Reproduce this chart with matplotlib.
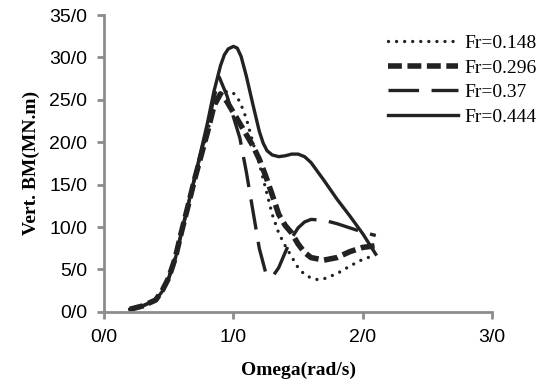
import numpy as np
import matplotlib
matplotlib.use('Agg')
import matplotlib.pyplot as plt

plt.rcParams['lines.scale_dashes'] = False

# omega (rad/s) and vertical bending moment (MN.m)
x_148 = [0.2, 0.3, 0.4, 0.45, 0.5, 0.55, 0.6, 0.65, 0.7, 0.75, 0.8, 0.85, 0.9, 0.95, 1.0,
         1.05, 1.1, 1.15, 1.2, 1.25, 1.3, 1.35, 1.4, 1.45, 1.5, 1.55, 1.6, 1.65, 1.7, 1.8,
         1.9, 2.0, 2.1]
y_148 = [0.3, 0.7, 1.5, 2.6, 4.1, 6.4, 9.5, 12.5, 15.6, 18.4, 21.2, 24.2, 25.6, 26.0, 25.8,
         24.8, 22.8, 20.0, 17.5, 14.5, 11.5, 9.3, 7.8, 6.5, 5.2, 4.4, 4.0, 3.8, 3.9, 4.5,
         5.4, 6.2, 6.7]

x_296 = [0.2, 0.3, 0.4, 0.45, 0.5, 0.55, 0.6, 0.65, 0.7, 0.75, 0.8, 0.85, 0.9, 0.95, 1.0,
         1.05, 1.1, 1.15, 1.2, 1.25, 1.3, 1.35, 1.4, 1.45, 1.5, 1.55, 1.6, 1.7, 1.8, 1.9,
         2.0, 2.1]
y_296 = [0.3, 0.7, 1.4, 2.5, 4.0, 6.3, 9.5, 12.5, 15.6, 18.4, 21.2, 24.3, 25.7, 24.8, 23.5,
         22.2, 20.9, 19.6, 18.0, 16.0, 13.8, 11.5, 10.2, 9.3, 8.0, 7.0, 6.4, 6.1, 6.4, 7.1,
         7.6, 7.8]

x_37 = [0.2, 0.3, 0.4, 0.45, 0.5, 0.55, 0.6, 0.65, 0.7, 0.75, 0.8, 0.85, 0.89, 0.95, 1.0,
        1.05, 1.1, 1.15, 1.2, 1.25, 1.3, 1.35, 1.4, 1.45, 1.5, 1.55, 1.6, 1.7, 1.8, 1.9,
        2.0, 2.1]
y_37 = [0.3, 0.7, 1.4, 2.5, 4.0, 6.3, 9.5, 12.6, 15.7, 18.7, 21.8, 25.2, 27.7, 25.5, 23.0,
        20.5, 16.5, 12.0, 7.5, 4.6, 4.1, 5.2, 7.0, 8.7, 9.9, 10.6, 10.9, 10.8, 10.4, 9.9,
        9.4, 9.0]

x_444 = [0.2, 0.3, 0.4, 0.45, 0.5, 0.55, 0.6, 0.65, 0.7, 0.75, 0.8, 0.85, 0.9, 0.93, 0.96,
         1.0, 1.03, 1.06, 1.1, 1.15, 1.2, 1.23, 1.26, 1.3, 1.35, 1.4, 1.45, 1.5, 1.55, 1.6,
         1.7, 1.8, 1.9, 2.0, 2.1]
y_444 = [0.3, 0.7, 1.4, 2.4, 3.9, 6.2, 9.3, 12.6, 15.8, 19.0, 22.3, 26.0, 29.0, 30.3, 31.0,
         31.3, 31.1, 30.1, 27.8, 24.5, 21.3, 19.9, 19.0, 18.5, 18.3, 18.4, 18.6, 18.6, 18.3,
         17.6, 15.5, 13.3, 11.3, 9.2, 6.8]

xticks = [0, 1, 2, 3]
xlabels = ['0/0', '1/0', '2/0', '3/0']
yticks = [0, 5, 10, 15, 20, 25, 30, 35]
ylabels = ['0/0', '5/0', '10/0', '15/0', '20/0', '25/0', '30/0', '35/0']

ink = '#222222'
fig = plt.figure(figsize=(5.5, 3.85), dpi=100)
ax = fig.add_axes([0.189, 0.19, 0.706, 0.771])

ax.plot(x_148, y_148, color=ink, lw=2.4, dashes=(0.01, 5.8), dash_capstyle='round',
        solid_capstyle='round', label='Fr=0.148')
ax.plot(x_296, y_296, color=ink, lw=4.0, dashes=(10, 4), dash_capstyle='butt',
        label='Fr=0.296')
ax.plot(x_37, y_37, color=ink, lw=2.4, dashes=(22, 9), label='Fr=0.37')
ax.plot(x_444, y_444, color=ink, lw=2.4, label='Fr=0.444')

ax.set_xlim(0, 3)
ax.set_ylim(0, 35)
ax.set_xticks(xticks)
ax.set_xticklabels(xlabels, fontsize=14, family='Liberation Sans')
ax.set_yticks(yticks)
ax.set_yticklabels(ylabels, fontsize=14, family='Liberation Sans')
ax.tick_params(direction='out', length=5, width=2, color='#8c8c8c', pad=7)
for s in ['top', 'right']:
    ax.spines[s].set_visible(False)
for s in ['left', 'bottom']:
    ax.spines[s].set_color('#8c8c8c')
    ax.spines[s].set_linewidth(2)

ax.set_xlabel('Omega(rad/s)', fontsize=14, family='Liberation Serif', fontweight='bold',
              labelpad=12)
ax.set_ylabel('Vert. BM(MN.m)', fontsize=14, family='Liberation Serif', fontweight='bold',
              labelpad=7)

leg = fig.legend(loc='upper left', bbox_to_anchor=(0.705, 0.91), frameon=False,
                 prop={'family': 'Liberation Serif', 'size': 14}, handlelength=3.6,
                 handletextpad=0.35, labelspacing=0.35, borderpad=0, borderaxespad=0)

fig.savefig('out.png', dpi=100)
